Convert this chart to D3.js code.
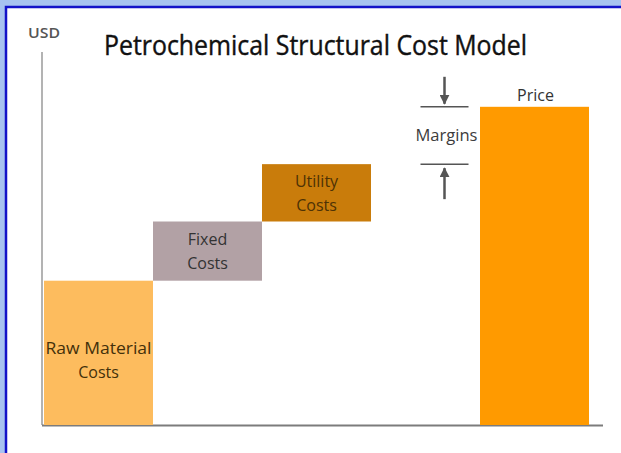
<!DOCTYPE html>
<html>
<head>
<meta charset="utf-8">
<script src="https://cdn.jsdelivr.net/npm/d3@7"></script>
<style>
  body { margin: 0; background: #a7c3f0; }
  svg { display: block; }
  text { font-family: "Open Sans", "Noto Sans", sans-serif; }
</style>
</head>
<body>
<div id="chart"></div>
<script>
// chart data
let categories = ["Raw Material Costs", "Fixed Costs", "Utility Costs", "Margins", "Price"];
let labels = [["Raw Material", "Costs"], ["Fixed", "Costs"], ["Utility", "Costs"], ["Margins"], ["Price"]];
let values = [39, 16, 15.5, 15.5]; // cost steps, USD
let priceValue = 86; // total = sum of steps
let colors = ["#fdbc5e", "#b2a1a5", "#c97c0b", null, "#ff9a00"];
let textColors = ["#43300a", "#333", "#4e3205", "#3c3c3c", "#333"];

let width = 621, height = 453;
let svg = d3.select("#chart").append("svg")
    .attr("width", width)
    .attr("height", height);

// white panel with blue frame
svg.append("rect")
    .attr("x", 6).attr("y", 7)
    .attr("width", width).attr("height", height)
    .attr("fill", "#fff")
    .attr("stroke", "#1212c8")
    .attr("stroke-width", 2.5);

let x = d3.scaleBand()
    .domain(categories)
    .range([44, 589])
    .padding(0);
let y = d3.scaleLinear()
    .domain([0, 100])
    .range([425, 55]);

// build waterfall steps
let steps = [];
let run = 0;
for (let i = 0; i < values.length; i++) {
    steps.push({ cat: categories[i], y0: run, y1: run + values[i], i: i });
    run += values[i];
}
steps.push({ cat: "Price", y0: 0, y1: priceValue, i: 4 });

// axes
svg.append("line")
    .attr("x1", 42).attr("x2", 42)
    .attr("y1", 52).attr("y2", y(0))
    .attr("stroke", "#9a9a9a").attr("stroke-width", 1.5);
svg.append("line")
    .attr("x1", 42).attr("x2", 603)
    .attr("y1", y(0) + 0.5).attr("y2", y(0) + 0.5)
    .attr("stroke", "#7c7c7c").attr("stroke-width", 2);

// bars (margins step has no box)
let bars = steps.filter(d => d.cat != "Margins");
svg.selectAll("rect.bar")
    .data(bars)
    .enter()
    .append("rect")
    .attr("class", "bar")
    .attr("x", d => x(d.cat))
    .attr("y", d => y(d.y1))
    .attr("width", x.bandwidth())
    .attr("height", d => y(d.y0) - y(d.y1))
    .attr("fill", d => colors[d.i]);

// labels inside bars
let inside = bars.filter(d => d.cat != "Price");
inside.forEach(d => {
    let cx = x(d.cat) + x.bandwidth() / 2;
    let cy = d.cat == "Raw Material Costs" ? 360 : (y(d.y0) + y(d.y1)) / 2;
    let lines = labels[d.i];
    let t = svg.append("text")
        .attr("text-anchor", "middle")
        .attr("font-size", 16)
        .attr("fill", textColors[d.i]);
    lines.forEach((l, k) => {
        let s = t.append("tspan")
            .attr("x", cx)
            .attr("y", cy + (k - (lines.length - 1) / 2) * 24 + 6)
            .text(l);
        if (l == "Raw Material") s.attr("textLength", 106).attr("lengthAdjust", "spacingAndGlyphs");
    });
});

// price label
let price = steps[4];
svg.append("text")
    .attr("x", x("Price") + x.bandwidth() / 2 + 1)
    .attr("y", y(price.y1) - 6)
    .attr("text-anchor", "middle")
    .attr("font-size", 16)
    .attr("fill", textColors[4])
    .text("Price");

// margins annotation
let m = steps[3];
let mx = x("Margins") + x.bandwidth() / 2 + 19;
let gray = "#555";
svg.append("defs").append("marker")
    .attr("id", "head")
    .attr("viewBox", "0 0 10 10")
    .attr("refX", 9).attr("refY", 5)
    .attr("markerWidth", 4).attr("markerHeight", 4)
    .attr("orient", "auto")
    .append("path")
    .attr("d", "M0,0L10,5L0,10Z")
    .attr("fill", gray);

[m.y1, m.y0].forEach(v => {
    svg.append("line")
        .attr("x1", mx - 24).attr("x2", mx + 24)
        .attr("y1", y(v)).attr("y2", y(v))
        .attr("stroke", gray).attr("stroke-width", 1.5);
});
svg.append("line")
    .attr("x1", mx).attr("x2", mx)
    .attr("y1", y(m.y1) - 30).attr("y2", y(m.y1) - 3)
    .attr("stroke", gray).attr("stroke-width", 2.5)
    .attr("marker-end", "url(#head)");
svg.append("line")
    .attr("x1", mx).attr("x2", mx)
    .attr("y1", y(m.y0) + 35).attr("y2", y(m.y0) + 4)
    .attr("stroke", gray).attr("stroke-width", 2.5)
    .attr("marker-end", "url(#head)");
svg.append("text")
    .attr("x", mx + 2)
    .attr("y", (y(m.y0) + y(m.y1)) / 2 + 6)
    .attr("text-anchor", "middle")
    .attr("font-size", 16)
    .attr("textLength", 62)
    .attr("lengthAdjust", "spacingAndGlyphs")
    .attr("fill", textColors[3])
    .text("Margins");

// titles
svg.append("text")
    .attr("x", 28).attr("y", 38)
    .attr("font-size", 14)
    .attr("font-weight", 600)
    .attr("textLength", 32)
    .attr("lengthAdjust", "spacingAndGlyphs")
    .attr("fill", "#555")
    .text("USD");
svg.append("text")
    .attr("x", 104).attr("y", 55)
    .attr("font-size", 27)
    .attr("textLength", 423)
    .attr("lengthAdjust", "spacingAndGlyphs")
    .attr("fill", "#111")
    .attr("stroke", "#111")
    .attr("stroke-width", 0.4)
    .text("Petrochemical Structural Cost Model");
</script>
</body>
</html>
